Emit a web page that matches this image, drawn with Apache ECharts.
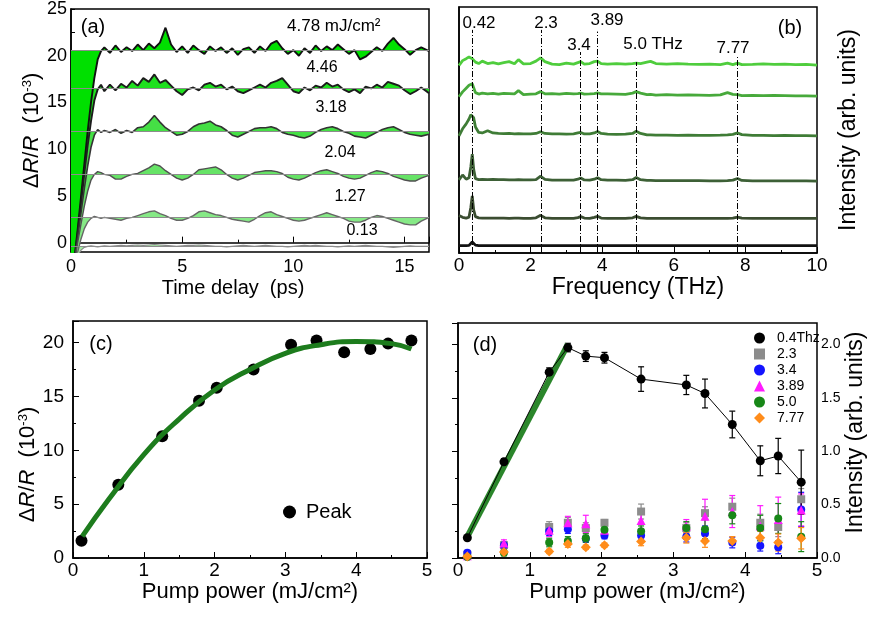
<!DOCTYPE html>
<html>
<head>
<meta charset="utf-8">
<script src="https://cdn.jsdelivr.net/npm/echarts@6/dist/echarts.min.js"></script>
<style>
html, body { margin: 0; padding: 0; background: #fff; }
#c_chart { width: 874px; height: 618px; }
</style>
</head>
<body>
<div id="c_chart"></div>
<script>
var ff = 'Liberation Sans, Arial, Helvetica, sans-serif';

// ---- (a) transient reflectivity, one trace per fluence
var delay = [0, 0.15, 0.3, 0.45, 0.6, 0.75, 0.9, 1.05, 1.2, 1.35, 1.5,
  1.75, 2, 2.25, 2.5, 2.75, 3, 3.25, 3.5, 3.75, 4, 4.25, 4.5, 4.75, 5, 5.25, 5.5, 5.75, 6, 6.25, 6.5,
  6.75, 7, 7.25, 7.5, 7.75, 8, 8.25, 8.5, 8.75, 9, 9.25, 9.5, 9.75, 10, 10.25, 10.5, 10.75, 11, 11.25, 11.5,
  11.75, 12, 12.25, 12.5, 12.75, 13, 13.25, 13.5, 13.75, 14, 14.25, 14.5, 14.75, 15, 15.25, 15.5, 15.75, 16.1];
var fluence = ['4.78', '4.46', '3.18', '2.04', '1.27', '0.13'];
var plateau = [20.6, 16.5, 11.9, 7.3, 2.7, -0.35];
var tr478 = [-4, -1.8, 1.4, 4.9, 8.4, 11.9, 15.0, 17.6, 19.6, 20.5, 20.9,
  20.3, 21.1, 20.4, 20.9, 20.5, 21.2, 20.6, 21.3, 20.8, 21.4, 23.0, 21.2, 20.4, 21.0, 20.3, 21.1, 20.6, 20.2, 21.0, 20.5,
  20.9, 20.3, 20.8, 20.1, 20.7, 20.9, 20.3, 21.0, 20.5, 21.3, 21.6, 20.8, 20.2, 20.6, 20.0, 20.8, 20.3, 21.1, 20.5, 21.0,
  20.6, 21.2, 20.7, 20.2, 20.6, 19.6, 19.9, 20.4, 20.9, 20.5, 21.3, 21.9, 21.2, 20.7, 20.1, 20.6, 20.9, 20.5];
var tr446 = [-4, -2, 1.0, 4.2, 7.4, 10.4, 13.0, 15.2, 16.4, 16.9, 16.2,
  16.9, 16.3, 17.0, 16.6, 17.3, 16.8, 17.6, 17.2, 18.0, 17.1, 17.4, 16.8, 16.2, 15.8, 16.4, 16.6, 16.3, 16.9, 17.1, 16.7,
  16.9, 16.4, 16.7, 16.2, 16.0, 16.3, 16.6, 16.9, 16.6, 17.1, 17.3, 17.6, 16.9, 16.2, 16.0, 16.6, 16.3, 16.8, 16.6, 17.1,
  16.7, 16.9, 16.4, 16.1, 16.4, 16.0, 16.7, 16.5, 16.9, 16.6, 17.2, 17.0, 16.8, 16.3, 15.9, 16.2, 16.6, 16.0];
var tr318 = [-4, -2, 0.6, 3.2, 5.8, 8.2, 10.2, 11.5, 12.1, 11.8, 12.0,
  11.8, 12.1, 11.7, 12.0, 11.8, 12.3, 12.4, 12.9, 13.6, 12.9, 12.3, 11.9, 11.5, 11.6, 11.9, 12.4, 12.7, 12.8, 13.0, 12.6,
  12.4, 12.0, 11.5, 11.3, 11.6, 11.9, 12.2, 12.3, 12.3, 12.4, 12.2, 11.8, 11.6, 11.5, 11.3, 11.2, 11.4, 11.8, 12.1, 12.3,
  12.4, 12.2, 11.9, 11.7, 11.4, 11.3, 11.2, 11.5, 11.8, 12.1, 12.3, 12.4, 12.1, 11.8, 11.6, 11.5, 11.4, 11.6];
var tr204 = [-4, -2.2, 0, 2.0, 3.9, 5.5, 6.7, 7.3, 7.6, 7.5, 7.3,
  7.2, 6.8, 6.8, 7.1, 7.3, 7.4, 7.7, 8.0, 8.4, 8.2, 7.7, 7.3, 6.9, 6.7, 6.9, 7.3, 7.8, 7.9, 8.0, 8.1,
  7.8, 7.3, 6.9, 6.7, 6.9, 7.2, 7.5, 7.6, 7.7, 7.7, 7.6, 7.4, 7.0, 6.8, 6.7, 6.9, 7.2, 7.5, 7.7, 7.8,
  7.6, 7.4, 7.1, 6.9, 6.8, 6.9, 7.2, 7.5, 7.7, 7.6, 7.4, 7.1, 6.9, 6.7, 6.6, 6.6, 6.9, 7.2];
var tr127 = [-4, -2.5, -1.0, 0.4, 1.5, 2.2, 2.6, 2.8, 2.7, 2.6, 2.7,
  2.6, 2.5, 2.4, 2.6, 2.7, 2.9, 3.1, 3.3, 3.4, 3.1, 2.9, 2.6, 2.4, 2.4, 2.6, 2.9, 3.3, 3.4, 3.2, 3.0,
  2.9, 2.7, 2.5, 2.4, 2.3, 2.2, 2.5, 2.9, 3.2, 3.3, 3.0, 2.8, 2.6, 2.4, 2.3, 2.4, 2.6, 2.8, 3.0, 3.2,
  3.0, 2.8, 2.6, 2.3, 2.2, 2.2, 2.4, 2.7, 2.9, 2.8, 2.6, 2.4, 2.2, 2.0, 1.9, 1.9, 2.3, 2.7];
var tr013 = [-3, -2.2, -1.4, -0.8, -0.5, -0.4, -0.35, -0.4, -0.45, -0.4, -0.35,
  -0.4, -0.35, -0.3, -0.35, -0.3, -0.25, -0.3, -0.25, -0.2, -0.25, -0.3, -0.35, -0.4, -0.35, -0.3, -0.3, -0.25, -0.3, -0.35, -0.4,
  -0.4, -0.45, -0.4, -0.35, -0.3, -0.35, -0.4, -0.35, -0.3, -0.35, -0.4, -0.4, -0.45, -0.4, -0.35, -0.3, -0.35, -0.3, -0.35, -0.4,
  -0.4, -0.45, -0.4, -0.35, -0.4, -0.35, -0.3, -0.35, -0.4, -0.4, -0.45, -0.5, -0.45, -0.4, -0.35, -0.4, -0.4, -0.4];
var fillCol = ['#00e000', '#1fe01f', '#45df45', '#66e366', '#86e986', '#a6efa6'];
var edgeCol = ['#111111', '#1c1c1c', '#333333', '#505050', '#666666', '#8a8a8a'];
var edgeWidth = [1.9, 1.9, 1.6, 1.4, 1.4, 1.2];

// ---- (b) Fourier spectra, offset
var freq = [0, 0.1, 0.2, 0.28, 0.33, 0.37, 0.41, 0.46, 0.55, 0.65, 0.8, 0.95, 1.1, 1.25, 1.4, 1.55, 1.66, 1.8, 2.0, 2.15,
  2.28, 2.4, 2.6, 2.8, 3.0, 3.2, 3.32, 3.4, 3.5, 3.65, 3.78, 3.87, 3.97, 4.15, 4.4, 4.65, 4.85, 4.95, 5.07, 5.25,
  5.35, 5.5, 5.8, 6.1, 6.4, 6.7, 7.0, 7.3, 7.5, 7.65, 7.78, 7.9, 8.2, 8.5, 8.8, 9.1, 9.4, 9.7, 10];
var sp1 = [7.62, 7.82, 7.9, 7.97, 7.95, 7.9, 7.82, 7.76, 7.7, 7.8, 7.7, 7.74, 7.69, 7.74, 7.78, 7.69, 7.86, 7.69, 7.7, 7.8,
  7.93, 7.78, 7.68, 7.66, 7.72, 7.68, 7.74, 7.78, 7.68, 7.7, 7.78, 7.8, 7.7, 7.68, 7.7, 7.68, 7.7, 7.72, 7.7, 7.76,
  7.79, 7.7, 7.68, 7.7, 7.68, 7.67, 7.68, 7.66, 7.72, 7.66, 7.72, 7.66, 7.67, 7.69, 7.67, 7.68, 7.66, 7.67, 7.64];
var sp2 = [6.35, 6.55, 6.7, 6.82, 6.9, 6.88, 6.72, 6.52, 6.46, 6.5, 6.47, 6.49, 6.46, 6.49, 6.48, 6.47, 6.6, 6.44, 6.46, 6.47,
  6.56, 6.47, 6.48, 6.46, 6.49, 6.47, 6.48, 6.5, 6.46, 6.47, 6.48, 6.51, 6.47, 6.47, 6.46, 6.45, 6.5, 6.56, 6.5, 6.44,
  6.45, 6.42, 6.44, 6.42, 6.43, 6.42, 6.41, 6.43, 6.52, 6.45, 6.44, 6.4, 6.41, 6.4, 6.41, 6.4, 6.39, 6.39, 6.38];
var sp3 = [4.76, 5.05, 5.25, 5.45, 5.62, 5.7, 5.5, 5.12, 4.9, 4.88, 4.97, 4.88, 4.86, 4.85, 4.86, 4.84, 4.85, 4.84, 4.84, 4.86,
  4.93, 4.86, 4.84, 4.84, 4.83, 4.84, 4.88, 4.9, 4.84, 4.84, 4.88, 4.94, 4.86, 4.83, 4.82, 4.83, 4.86, 4.95, 4.86, 4.8,
  4.8, 4.79, 4.79, 4.78, 4.79, 4.78, 4.78, 4.79, 4.8, 4.82, 4.88, 4.81, 4.78, 4.78, 4.77, 4.78, 4.77, 4.77, 4.76];
var sp4 = [2.97, 3.17, 3.0, 3.06, 3.5, 4.02, 3.4, 3.02, 2.98, 2.99, 2.98, 2.99, 2.98, 2.98, 2.97, 2.97, 2.98, 2.97, 2.97, 2.98,
  3.12, 2.99, 2.96, 2.96, 2.96, 2.96, 3.0, 3.05, 2.97, 2.96, 3.0, 3.06, 2.98, 2.96, 2.96, 2.95, 2.98, 3.07, 2.98, 2.95,
  2.95, 2.94, 2.94, 2.94, 2.94, 2.94, 2.93, 2.93, 2.94, 2.96, 3.03, 2.95, 2.93, 2.93, 2.93, 2.93, 2.93, 2.93, 2.92];
var sp5 = [1.52, 1.45, 1.42, 1.46, 1.85, 2.32, 1.75, 1.48, 1.43, 1.42, 1.42, 1.42, 1.42, 1.42, 1.41, 1.42, 1.42, 1.41, 1.41, 1.43,
  1.53, 1.43, 1.41, 1.41, 1.41, 1.41, 1.44, 1.48, 1.42, 1.41, 1.45, 1.49, 1.42, 1.41, 1.41, 1.41, 1.43, 1.49, 1.43, 1.41,
  1.41, 1.41, 1.41, 1.41, 1.41, 1.41, 1.41, 1.41, 1.41, 1.42, 1.46, 1.42, 1.41, 1.41, 1.41, 1.41, 1.41, 1.41, 1.41];
var sp6 = [0.3, 0.3, 0.3, 0.31, 0.37, 0.45, 0.37, 0.32, 0.3, 0.3, 0.3, 0.3, 0.3, 0.3, 0.3, 0.3, 0.3, 0.3, 0.3, 0.3,
  0.3, 0.3, 0.3, 0.3, 0.3, 0.3, 0.3, 0.3, 0.3, 0.3, 0.3, 0.3, 0.3, 0.3, 0.3, 0.3, 0.3, 0.3, 0.3, 0.3,
  0.3, 0.3, 0.3, 0.3, 0.3, 0.3, 0.3, 0.3, 0.3, 0.3, 0.3, 0.3, 0.3, 0.3, 0.3, 0.3, 0.3, 0.3, 0.3];
var specCol = ['#4fcd3d', '#47a93b', '#3f7c36', '#3d6036', '#3b4d31', '#111111'];
var modePos = [0.36, 2.3, 3.4, 3.87, 4.95, 7.78];
var modeTop = [9.07, 9.07, 8.17, 9.0, 7.76, 7.97];

// ---- (c) peak amplitude vs pump
var pumpC = [0.12, 0.64, 1.26, 1.78, 2.03, 2.55, 3.08, 3.44, 3.83, 4.2, 4.45, 4.78];
var peakC = [1.6, 6.8, 11.3, 14.6, 15.8, 17.5, 19.8, 20.2, 19.1, 19.4, 19.9, 20.2];
var fitCx = [0.13, 0.5, 1.0, 1.5, 2.0, 2.5, 3.0, 3.5, 4.0, 4.5, 4.78];
var fitCy = [2.0, 5.4, 9.6, 12.9, 15.6, 17.5, 19.0, 19.8, 20.1, 19.9, 19.4];

// ---- (d) mode intensities vs pump
var pumpD = [0.13, 0.64, 1.27, 1.53, 1.78, 2.04, 2.55, 3.18, 3.44, 3.82, 4.21, 4.46, 4.78];
var amp04 = [0.19, 0.90, 1.74, 1.97, 1.89, 1.875, 1.675, 1.62, 1.54, 1.25, 0.91, 0.955, 0.71];
var err04 = [0.01, 0.03, 0.04, 0.04, 0.05, 0.05, 0.115, 0.09, 0.135, 0.125, 0.14, 0.165, 0.3];
var amp23 = [0.03, 0.12, 0.29, 0.33, 0.28, 0.33, 0.435, 0.28, 0.42, 0.48, 0.33, 0.29, 0.55];
var err23 = [0.02, 0.03, 0.05, 0.05, 0.05, 0.03, 0.07, 0.05, 0.06, 0.08, 0.08, 0.09, 0.1];
var amp34 = [0.05, 0.12, 0.25, 0.27, 0.18, 0.21, 0.21, 0.2, 0.23, 0.145, 0.115, 0.1, 0.455];
var err34 = [0.02, 0.03, 0.04, 0.04, 0.03, 0.03, 0.04, 0.05, 0.07, 0.05, 0.05, 0.06, 0.16];
var amp389 = [0.02, 0.14, 0.26, 0.33, 0.32, 0.26, 0.35, 0.3, 0.39, 0.435, 0.3, 0.36, 0.45];
var err389 = [0.02, 0.03, 0.06, 0.06, 0.08, 0.06, 0.1, 0.06, 0.16, 0.15, 0.19, 0.21, 0.15];
var amp50 = [0.01, 0.05, 0.145, 0.16, 0.186, 0.265, 0.25, 0.28, 0.27, 0.4, 0.28, 0.37, 0.2];
var err50 = [0.01, 0.03, 0.04, 0.04, 0.04, 0.04, 0.05, 0.06, 0.09, 0.08, 0.12, 0.14, 0.14];
var amp777 = [0.015, 0.056, 0.062, 0.13, 0.1, 0.12, 0.155, 0.19, 0.16, 0.16, 0.19, 0.145, 0.185];
var err777 = [0.01, 0.02, 0.02, 0.03, 0.02, 0.02, 0.04, 0.05, 0.06, 0.04, 0.06, 0.08, 0.1];
var fitDx = [0.13, 1.53];
var fitDy = [0.2, 2.0];

function pairs(xs, ys) {
  return xs.map(function (x, i) { return [x, ys[i]]; });
}
function bars(xs, ys, es) {
  return xs.map(function (x, i) { return [x, ys[i] - es[i], ys[i] + es[i]]; });
}
function errBar(params, api) {
  var x = api.value(0);
  var lo = api.coord([x, api.value(1)]);
  var hi = api.coord([x, api.value(2)]);
  var st = { stroke: api.visual('color'), lineWidth: 1.2 };
  var w = 3;
  return {
    type: 'group',
    children: [
      { type: 'line', shape: { x1: lo[0], y1: lo[1], x2: hi[0], y2: hi[1] }, style: st },
      { type: 'line', shape: { x1: lo[0] - w, y1: lo[1], x2: lo[0] + w, y2: lo[1] }, style: st },
      { type: 'line', shape: { x1: hi[0] - w, y1: hi[1], x2: hi[0] + w, y2: hi[1] }, style: st }
    ]
  };
}

var dm = document.getElementById('c_chart');
var ch = echarts.init(dm);

var black = '#000';
var frame = { show: true, borderColor: black, borderWidth: 1.5 };
function baseX(idx, opt) {
  return Object.assign({
    gridIndex: idx, type: 'value',
    axisLine: { show: true, lineStyle: { color: black, width: 1.5 } },
    axisTick: { show: true, inside: true, length: 6, lineStyle: { color: black } },
    minorTick: { show: true, splitNumber: 2, length: 3, lineStyle: { color: black } },
    splitLine: { show: false },
    nameLocation: 'middle',
    axisLabel: { color: black, fontFamily: ff, fontSize: 19, showMaxLabel: false }
  }, opt);
}

var drRich = {
  n: { fontSize: 22, fontFamily: ff, color: black },
  i: { fontSize: 22, fontFamily: ff, fontStyle: 'italic', color: black },
  s: { fontSize: 13, fontFamily: ff, color: black, verticalAlign: 'top' }
};
var drName = '{n|Δ}{i|R}{n|/}{i|R}{n|  (10}{s|-3}{n|)}';

var traces = [tr478, tr446, tr318, tr204, tr127, tr013];
var spectra = [sp1, sp2, sp3, sp4, sp5, sp6];
var series = [];

// fills first (lowest fluence underneath), edges on top
for (var k = traces.length - 1; k >= 0; k--) {
  series.push({
    type: 'line', name: 'fill ' + fluence[k], xAxisIndex: 0, yAxisIndex: 0,
    data: pairs(delay, traces[k]), showSymbol: false, silent: true,
    lineStyle: { opacity: 0 },
    areaStyle: { origin: plateau[k], color: fillCol[k], opacity: 1 },
    markLine: {
      silent: true, symbol: 'none', label: { show: false },
      lineStyle: { color: '#8c8c8c', width: 1, type: 'solid' },
      data: [{ yAxis: plateau[k] }]
    }
  });
}
for (var k = 0; k < traces.length; k++) {
  series.push({
    type: 'line', name: fluence[k], xAxisIndex: 0, yAxisIndex: 0,
    data: pairs(delay, traces[k]), showSymbol: false, silent: true,
    lineStyle: { color: edgeCol[k], width: edgeWidth[k] }
  });
}

spectra.forEach(function (s, i) {
  var sr = {
    type: 'line', xAxisIndex: 1, yAxisIndex: 1, data: pairs(freq, s),
    showSymbol: false, silent: true,
    lineStyle: { color: specCol[i], width: 2.8 }
  };
  if (i === spectra.length - 1) {
    sr.markLine = {
      silent: true, symbol: 'none', label: { show: false },
      lineStyle: { color: black, width: 1, type: [6, 2, 1, 2] },
      data: modePos.map(function (f, j) { return [{ coord: [f, 0] }, { coord: [f, modeTop[j]] }]; })
    };
  }
  series.push(sr);
});

series.push({
  type: 'scatter', name: 'Peak', xAxisIndex: 2, yAxisIndex: 2,
  data: pairs(pumpC, peakC), symbol: 'circle', symbolSize: 12,
  itemStyle: { color: black, opacity: 1 }
});
series.push({
  type: 'line', name: 'fit c', xAxisIndex: 2, yAxisIndex: 2,
  data: pairs(fitCx, fitCy), smooth: true, showSymbol: false, silent: true,
  lineStyle: { color: '#1d7c1d', width: 5 }
});

var modesD = [
  { name: '2.3', y: amp23, e: err23, c: '#8c8c8c', s: 'rect', size: 8 },
  { name: '3.4', y: amp34, e: err34, c: '#1414ff', s: 'circle', size: 8 },
  { name: '3.89', y: amp389, e: err389, c: '#ff1aff', s: 'triangle', size: 9 },
  { name: '5.0', y: amp50, e: err50, c: '#178717', s: 'circle', size: 8 },
  { name: '7.77', y: amp777, e: err777, c: '#ff8c1a', s: 'diamond', size: 10 }
];
modesD.forEach(function (m) {
  series.push({
    type: 'custom', name: 'err ' + m.name, xAxisIndex: 3, yAxisIndex: 3,
    renderItem: errBar, data: bars(pumpD, m.y, m.e), encode: { x: 0, y: [1, 2] },
    itemStyle: { color: m.c }, silent: true
  });
});
modesD.forEach(function (m) {
  series.push({
    type: 'scatter', name: m.name, xAxisIndex: 3, yAxisIndex: 3,
    data: pairs(pumpD, m.y), symbol: m.s, symbolSize: m.size,
    itemStyle: { color: m.c, opacity: 1 }
  });
});
series.push({
  type: 'line', name: 'fit d', xAxisIndex: 3, yAxisIndex: 3,
  data: pairs(fitDx, fitDy), showSymbol: false, silent: true,
  lineStyle: { color: '#2b862b', width: 6 }
});
series.push({
  type: 'custom', name: 'err 0.4', xAxisIndex: 3, yAxisIndex: 3,
  renderItem: errBar, data: bars(pumpD, amp04, err04), encode: { x: 0, y: [1, 2] },
  itemStyle: { color: black }, silent: true
});
series.push({
  type: 'line', name: '0.4Thz', xAxisIndex: 3, yAxisIndex: 3,
  data: pairs(pumpD, amp04), symbol: 'circle', symbolSize: 9, showSymbol: true,
  lineStyle: { color: black, width: 1 }, itemStyle: { color: black, opacity: 1 }
});

function note(x, y, text, size, align) {
  return {
    type: 'text', x: x, y: y, silent: true,
    style: { text: text, fontFamily: ff, fontSize: size, fill: black, align: align || 'center', verticalAlign: 'middle' }
  };
}

var option = {
  animation: false,
  backgroundColor: '#fff',
  grid: [
    Object.assign({ left: 71, top: 7, width: 358, height: 245 }, frame),
    Object.assign({ left: 459, top: 7, width: 358, height: 246 }, frame),
    Object.assign({ left: 73, top: 321, width: 354, height: 237 }, frame),
    Object.assign({ left: 458, top: 323, width: 359, height: 235 }, frame)
  ],
  xAxis: [
    baseX(0, {
      min: 0, max: 16.1, interval: 5,
      axisLabel: { color: black, fontFamily: ff, fontSize: 18, margin: 6, showMaxLabel: false },
      name: 'Time delay  (ps)', nameGap: 26,
      nameTextStyle: { color: black, fontFamily: ff, fontSize: 20, padding: [0, 34, 0, 0] }
    }),
    baseX(1, {
      min: 0, max: 10, interval: 2,
      axisLabel: { color: black, fontFamily: ff, fontSize: 19, margin: 3, showMaxLabel: true },
      name: 'Frequency (THz)', nameGap: 22,
      nameTextStyle: { color: black, fontFamily: ff, fontSize: 23 }
    }),
    baseX(2, {
      min: 0, max: 5, interval: 1,
      axisLabel: { color: black, fontFamily: ff, fontSize: 19, margin: 3, showMaxLabel: true },
      name: 'Pump power (mJ/cm²)', nameGap: 20,
      nameTextStyle: { color: black, fontFamily: ff, fontSize: 22 }
    }),
    baseX(3, {
      min: 0, max: 5, interval: 1,
      axisLabel: { color: black, fontFamily: ff, fontSize: 19, margin: 3, showMaxLabel: true },
      name: 'Pump power (mJ/cm²)', nameGap: 20,
      nameTextStyle: { color: black, fontFamily: ff, fontSize: 22 }
    })
  ],
  yAxis: [
    {
      gridIndex: 0, type: 'value', min: -1, max: 25,
      axisLine: { show: true, lineStyle: { color: black, width: 1.5 } },
      axisTick: { show: true, inside: true, length: 4, lineStyle: { color: black },
        customValues: [0, 2.5, 5, 7.5, 10, 12.5, 15, 17.5, 20, 22.5, 25] },
      axisLabel: { color: black, fontFamily: ff, fontSize: 18, margin: 4,
        customValues: [0, 5, 10, 15, 20, 25] },
      splitLine: { show: false },
      name: drName, nameLocation: 'middle', nameRotate: 90, nameGap: 27,
      nameTextStyle: { rich: drRich }
    },
    {
      gridIndex: 1, type: 'value', min: 0, max: 10, position: 'right',
      axisLine: { show: true, lineStyle: { color: black, width: 1.5 } },
      axisTick: { show: false }, axisLabel: { show: false }, splitLine: { show: false },
      name: 'Intensity (arb. units)', nameLocation: 'middle', nameRotate: 90, nameGap: 20,
      nameTextStyle: { color: black, fontFamily: ff, fontSize: 23 }
    },
    {
      gridIndex: 2, type: 'value', min: 0, max: 22, interval: 5,
      axisLine: { show: true, lineStyle: { color: black, width: 1.5 } },
      axisTick: { show: true, inside: true, length: 6, lineStyle: { color: black } },
      minorTick: { show: true, splitNumber: 2, length: 3, lineStyle: { color: black } },
      axisLabel: { color: black, fontFamily: ff, fontSize: 19, margin: 9, showMaxLabel: false },
      splitLine: { show: false },
      name: drName, nameLocation: 'middle', nameRotate: 90, nameGap: 34,
      nameTextStyle: { rich: drRich, padding: [0, 50, 0, 0] }
    },
    {
      gridIndex: 3, type: 'value', min: 0, max: 2.2, interval: 0.5, position: 'right',
      axisLine: { show: true, lineStyle: { color: black, width: 1.5 } },
      axisTick: { show: true, inside: true, length: 6, lineStyle: { color: black } },
      minorTick: { show: true, splitNumber: 2, length: 3, lineStyle: { color: black } },
      axisLabel: { color: black, fontFamily: ff, fontSize: 14, margin: 4, showMaxLabel: false,
        formatter: function (v) { return v.toFixed(1); } },
      splitLine: { show: false },
      name: 'Intensity (arb. units)', nameLocation: 'middle', nameRotate: 90, nameGap: 26,
      nameTextStyle: { color: black, fontFamily: ff, fontSize: 23, padding: [0, 0, 0, 16] }
    }
  ],
  legend: [
    {
      data: ['Peak'], left: 278, top: 497, orient: 'vertical',
      itemWidth: 13, itemHeight: 13, selectedMode: false,
      textStyle: { color: black, fontFamily: ff, fontSize: 20, padding: [0, 0, 0, 5] }
    },
    {
      data: [
        { name: '0.4Thz', icon: 'circle' },
        { name: '2.3', icon: 'rect' },
        { name: '3.4', icon: 'circle' },
        { name: '3.89', icon: 'triangle' },
        { name: '5.0', icon: 'circle' },
        { name: '7.77', icon: 'diamond' }
      ],
      left: 749, top: 325, orient: 'vertical', itemWidth: 11, itemHeight: 11, itemGap: 0,
      selectedMode: false,
      textStyle: { color: black, fontFamily: ff, fontSize: 14, lineHeight: 16, padding: [0, 0, 0, 7] }
    }
  ],
  graphic: [
    note(93, 27, '(a)', 20),
    note(287, 26, '4.78 mJ/cm²', 17, 'left'),
    note(322, 68, fluence[1], 16),
    note(331, 108, fluence[2], 16),
    note(340, 153, fluence[3], 16),
    note(350, 197, fluence[4], 16),
    note(362, 231, fluence[5], 16),
    note(479, 23, '0.42', 17),
    note(546, 23, '2.3', 17),
    note(607, 20, '3.89', 17),
    note(579, 45, '3.4', 17),
    note(653, 44, '5.0 THz', 17),
    note(733, 48, '7.77', 17),
    note(790, 28, '(b)', 20),
    note(101, 344, '(c)', 20),
    note(485, 345, '(d)', 20)
  ],
  series: series
};

ch.setOption(option);
window.onresize = function () {
  ch.resize();
};
</script>
</body>
</html>
